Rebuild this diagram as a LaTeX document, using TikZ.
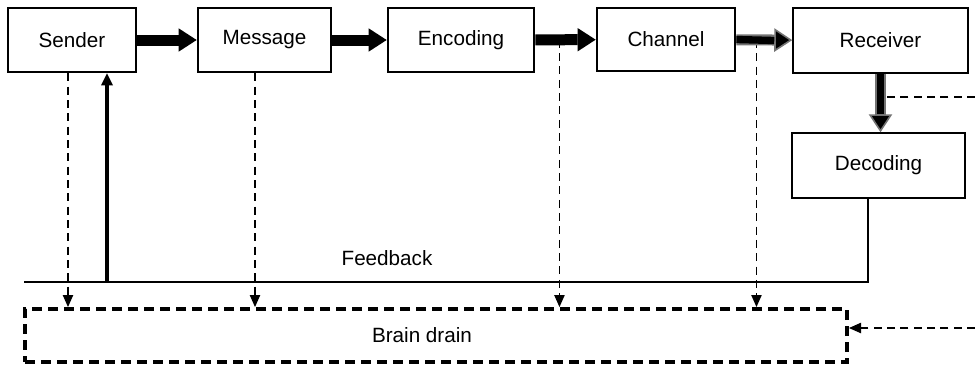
\documentclass[tikz,border=0pt]{standalone}
\usepackage{fontspec}
\setmainfont{Liberation Sans}
\usetikzlibrary{arrows.meta,calc}
\begin{document}
\begin{tikzpicture}[x=0.75pt,y=-0.75pt,
  font=\fontsize{15.5}{18}\selectfont,
  stage/.style={draw, line width=2pt, inner sep=0pt, minimum height=48pt},
  thinstage/.style={draw, line width=1.1pt, inner sep=0pt, minimum height=48.75pt},
  drainbox/.style={draw, line width=3pt, dash pattern=on 7.5pt off 4.5pt, inner sep=0pt},
  flow/.style={line width=8.25pt, -{Triangle[width=17.5pt,length=13.5pt,line width=0pt]}},
  greyflow/.style={black!55, line width=8.25pt, -{Triangle[width=17.5pt,length=13.5pt,fill=black,line width=1.2pt]}},
  greycore/.style={line width=5.5pt},
  leak/.style={line width=1pt, dash pattern=on 6pt off 4pt, -{Triangle[width=8pt,length=9pt,line width=0pt]}},
  leakline/.style={line width=1pt, dash pattern=on 6pt off 4pt},
  loopline/.style={line width=1.1pt},
  loopup/.style={line width=2.3pt, -{Triangle[width=9pt,length=9pt,line width=0pt]}}]

\useasboundingbox (0,0) rectangle (975,365);

% main chain
\node[stage, minimum width=96pt]    (Sender)   at (72,40)    {Sender};
\node[stage, minimum width=99.75pt] (Message)  at (264.5,40) {Message};
\node[stage, minimum width=109.5pt] (Encoding) at (461,40)   {Encoding};
\node[stage, minimum width=103.5pt, minimum height=47.25pt] (Channel) at (666,39.5) {Channel};
\node[thinstage, minimum width=131.25pt] (Receiver) at (880.5,40.5) {Receiver};
\node[thinstage, minimum width=129.75pt] (Decoding) at (878.5,165.5) {Decoding};

% brain drain box
\node[drainbox, minimum width=616.5pt, minimum height=39.75pt] (Brain) at (436,335.5) {};
\node (BrainText) at (422,335) {Brain drain};

% feedback loop
\coordinate (fbL) at (24,282);
\coordinate (fbC) at (868,282);
\coordinate (fbUp) at (107,282);
\draw[loopline] (fbL) -- (fbC) -- (fbC |- Decoding.south);
\node (FeedbackText) at (387,258) {Feedback};
\draw[loopup] (fbUp) -- (fbUp |- Sender.south);

% leaks towards the brain drain
\coordinate (s1) at ($(Sender.south)+(-4,0)$);
\coordinate (m1) at ($(Message.south)+(-9.5,0)$);
\coordinate (e1) at ($(Encoding.east)!0.4!(Channel.west)$);
\coordinate (c1) at ($(Channel.east)!0.36!(Receiver.west)$);
\draw[leak] (s1) -- (s1 |- Brain.north);
\draw[leak] (m1) -- (m1 |- Brain.north);
\draw[leak] (e1) -- (e1 |- Brain.north);
\draw[leak] (c1) -- (c1 |- Brain.north);

\coordinate (rcut) at (975,97);
\draw[leakline] (rcut) -- (rcut -| Receiver.south);
\coordinate (bcut) at (975,328);
\draw[leak] (bcut) -- (bcut -| Brain.east);

% thick flow arrows
\draw[flow] (Sender) -- (Message);
\draw[flow] (Message) -- (Encoding);
\draw[flow] (Encoding) -- (Channel);
\draw[greyflow] (Channel) -- (Receiver);
\draw[greycore] (Channel.east) -- ($(Receiver.west)+(-18,0)$);
\draw[greyflow] (Receiver.south) -- (Receiver.south |- Decoding.north);
\draw[greycore] (Receiver.south) -- ($(Receiver.south |- Decoding.north)+(0,-18)$);
\end{tikzpicture}
\end{document}
